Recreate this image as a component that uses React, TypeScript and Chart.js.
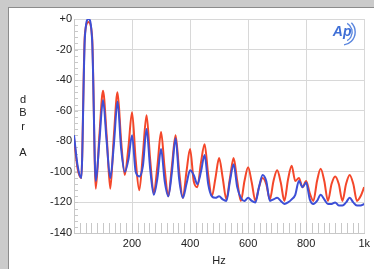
import React, { useEffect, useRef } from "react";
import { Chart, registerables } from "chart.js";

Chart.register(...registerables);

const freqs = [
  0, 12.5, 25, 37.5, 50, 62.5, 75, 87.5, 100, 112.5, 125, 137.5, 150, 162.5, 175, 187.5,
  200, 212.5, 225, 237.5, 250, 262.5, 275, 287.5, 300, 312.5, 325, 337.5, 350, 362.5, 375, 387.5,
  400, 412.5, 425, 437.5, 450, 462.5, 475, 487.5, 500, 512.5, 525, 537.5, 550, 562.5, 575, 587.5,
  600, 612.5, 625, 637.5, 650, 662.5, 675, 687.5, 700, 712.5, 725, 737.5, 750, 762.5, 775, 787.5,
  800, 812.5, 825, 837.5, 850, 862.5, 875, 887.5, 900, 912.5, 925, 937.5, 950, 962.5, 975, 987.5, 1000,
];

const blueDb = [
  -76, -96, -104, -12, 0, -14, -106, -80, -53, -80, -104, -82, -54, -85, -100, -92,
  -76, -100, -103, -96, -72, -98, -115, -104, -85, -106, -116, -100, -78, -105, -117, -108,
  -99, -102, -108, -100, -89, -108, -116, -117, -116, -118, -119, -106, -95, -110, -117, -119,
  -117, -119, -120, -110, -102, -106, -119, -118, -117, -119, -121, -120, -118, -115, -106, -110,
  -107, -118, -121, -119, -115, -118, -121, -121, -120, -122, -122, -120, -117, -120, -122, -122, -121,
];

const redDb = [
  -78, -98, -104, -10, -2, -12, -111, -76, -47, -76, -111, -76, -48, -80, -102, -84,
  -61, -92, -112, -88, -63, -92, -114, -96, -74, -98, -116, -96, -76, -100, -117, -100,
  -85, -106, -110, -94, -82, -102, -116, -104, -91, -104, -118, -104, -91, -106, -119, -106,
  -97, -107, -119, -110, -104, -108, -118, -106, -99, -107, -119, -105, -96, -106, -104, -110,
  -106, -114, -119, -106, -98, -106, -119, -108, -103, -108, -119, -108, -102, -108, -119, -116, -110,
];

const xTicks = [200, 400, 600, 800, 1000];
const yTicks = [0, -20, -40, -60, -80, -100, -120, -140];
const yTitleLetters = ["d", "B", "r", "", "A"];

const FONT = "'Liberation Sans', Arial, sans-serif";

const extrasPlugin = {
  id: "extras",
  beforeDatasetsDraw(chart: any) {
    const { ctx, chartArea, scales } = chart;
    const xs = scales.x;
    const ys = scales.y;
    ctx.save();
    ctx.strokeStyle = "#c8c8c8";
    ctx.lineWidth = 1;
    ctx.beginPath();
    for (let f = 20; f < 1000; f += 20) {
      const px = Math.round(xs.getPixelForValue(f)) + 0.5;
      ctx.moveTo(px, chartArea.bottom);
      ctx.lineTo(px, chartArea.bottom - 10);
    }
    for (let d = -136; d < 0; d += 4) {
      const py = Math.round(ys.getPixelForValue(d)) + 0.5;
      ctx.moveTo(chartArea.left, py);
      ctx.lineTo(chartArea.left + 4, py);
    }
    ctx.stroke();
    ctx.restore();
  },
  afterDraw(chart: any) {
    const { ctx, chartArea } = chart;
    ctx.save();
    const cx = chartArea.right - 20;
    const cy = chartArea.top + 13;
    ctx.fillStyle = "#3f6fd6";
    ctx.font = `italic bold 14px ${FONT}`;
    ctx.textAlign = "center";
    ctx.textBaseline = "middle";
    ctx.fillText("Ap", cx - 2, cy);
    ctx.strokeStyle = "#5a86de";
    ctx.lineWidth = 1.4;
    ctx.beginPath();
    ctx.arc(cx - 2, cy, 10, -Math.PI / 3, Math.PI / 3);
    ctx.stroke();
    ctx.beginPath();
    ctx.arc(cx - 2, cy, 13, -Math.PI / 4, Math.PI / 2.2);
    ctx.stroke();
    ctx.restore();
  },
};

export default function App() {
  const canvasRef = useRef<HTMLCanvasElement | null>(null);

  useEffect(() => {
    const canvas = canvasRef.current;
    if (!canvas) return;
    const chart = new Chart(canvas, {
      type: "line",
      data: {
        labels: freqs,
        datasets: [
          {
            label: "blue",
            data: freqs.map((f, i) => ({ x: f, y: blueDb[i] })),
            borderColor: "#3d4fd6",
            borderWidth: 2,
            pointRadius: 0,
            cubicInterpolationMode: "monotone",
            order: 0,
          },
          {
            label: "red",
            data: freqs.map((f, i) => ({ x: f, y: redDb[i] })),
            borderColor: "#f4472a",
            borderWidth: 2,
            pointRadius: 0,
            cubicInterpolationMode: "monotone",
            order: 1,
          },
        ],
      },
      options: {
        responsive: false,
        animation: false,
        layout: { padding: { top: 11, right: 2, left: 0, bottom: 0 } },
        plugins: { legend: { display: false }, tooltip: { enabled: false } },
        scales: {
          x: {
            type: "linear",
            min: 0,
            max: 1000,
            afterFit: (s: any) => {
              s.height = 36;
            },
            afterBuildTicks: (s: any) => {
              s.ticks = [0, ...xTicks].map((v) => ({ value: v }));
            },
            ticks: {
              autoSkip: false,
              maxRotation: 0,
              padding: 4,
              color: "#222",
              font: { family: FONT, size: 11 },
              callback: (v: any) => (v === 0 ? "" : v === 1000 ? "1k" : String(v)),
            },
            grid: { color: "#d8d8d8", drawTicks: false },
            border: { color: "#c8c8c8" },
            title: {
              display: true,
              text: "Hz",
              color: "#222",
              font: { family: FONT, size: 11 },
              padding: { top: 0, bottom: 1 },
            },
          },
          y: {
            min: -140,
            max: 0,
            afterFit: (s: any) => {
              s.width = 65;
            },
            afterBuildTicks: (s: any) => {
              s.ticks = yTicks.map((v) => ({ value: v }));
            },
            ticks: {
              padding: 2,
              color: "#222",
              font: { family: FONT, size: 11 },
              callback: (v: any) => (v === 0 ? "+0" : String(v)),
            },
            grid: { color: "#d8d8d8", drawTicks: false },
            border: { color: "#c8c8c8" },
          },
        },
      },
      plugins: [extrasPlugin],
    } as any);
    return () => chart.destroy();
  }, []);

  return (
    <div
      style={{
        position: "fixed",
        left: 0,
        top: 0,
        width: 374,
        height: 269,
        background: "#cbcbcb",
        overflow: "hidden",
      }}
    >
      <div
        style={{
          position: "absolute",
          left: 8,
          top: 7,
          width: 366,
          height: 262,
          background: "#ffffff",
          borderLeft: "1px solid #8c8c8c",
          borderTop: "1px solid #8c8c8c",
          boxSizing: "border-box",
        }}
      >
        <canvas ref={canvasRef} width={365} height={261} style={{ display: "block" }} />
        <div
          style={{
            position: "absolute",
            left: 7,
            top: 85,
            width: 14,
            textAlign: "center",
            fontFamily: FONT,
            fontSize: 11,
            lineHeight: "13.3px",
            color: "#222",
          }}
        >
          {yTitleLetters.map((l, i) => (
            <div key={i} style={{ height: "13.3px" }}>
              {l}
            </div>
          ))}
        </div>
      </div>
    </div>
  );
}
